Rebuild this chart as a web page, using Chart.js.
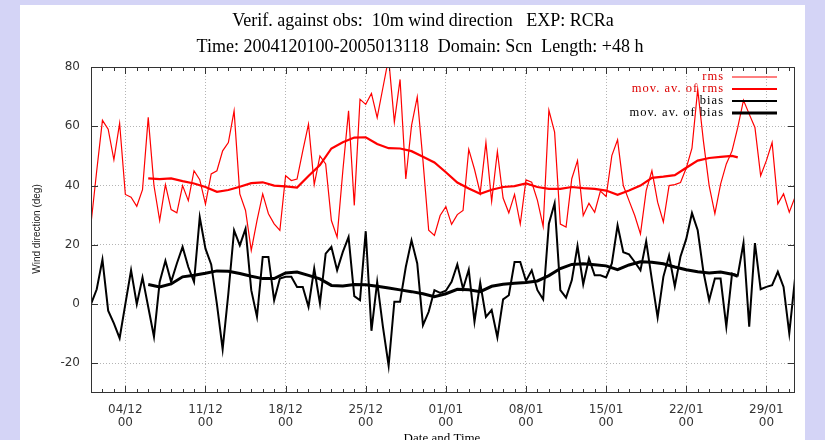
<!DOCTYPE html>
<html>
<head>
<meta charset="utf-8">
<script src="https://cdn.jsdelivr.net/npm/chart.js@4.4.1/dist/chart.umd.min.js"></script>
<style>
  html, body { margin: 0; padding: 0; background: #d4d4f6; }
  #wrap { width: 825px; height: 440px; position: relative; }
</style>
</head>
<body>
<div id="wrap"><canvas id="c"></canvas></div>
<script>
// 10 m wind direction verification, +48 h forecasts, 12-hourly from 2004-12-01 00 UTC.
// x is measured in days after 2004-12-01 00 UTC.

const rmsValues = [
  27.1, 45, 62, 59, 48.7, 61, 37, 36.1, 33, 38.6,
  63, 40, 28.2, 40.3, 31.9, 30.8, 40, 34.9, 45, 42,
  33.7, 43.9, 45, 51.7, 54.5, 65.2, 37.2, 31.6, 18.1, 28.2,
  37.2, 30.5, 27.1, 24.9, 43.3, 41.7, 42.2, 51.7, 60.7, 40.3,
  50, 47.3, 28.2, 22.6, 45, 65.2, 33.3, 69.1, 67.4, 71.1,
  62.9, 73, 83, 61.4, 75.8, 42.2, 60.2, 69.9, 48.4, 24.9,
  23.2, 29.9, 32.9, 26.9, 30.2, 31.6, 52.2, 45.5, 37.5, 54.5,
  34.7, 51.5, 35.8, 30.8, 37, 27, 41.9, 41.1, 35, 26.2,
  65.4, 58, 27, 26, 42.3, 48.4, 29.9, 34, 31, 38.1,
  36.3, 50.1, 55.4, 40, 34.9, 29.9, 23.7, 38.3, 45, 34.4,
  27.7, 40, 40.3, 41, 45.9, 52.6, 72.5, 55, 40, 30.5,
  40.5, 47.3, 51.7, 59.6, 68.8, 64.1, 59.6, 43.3, 48.4, 54.5,
  33.8, 37.2, 31, 36.1
];

const biasValues = [
  0, 5, 15, -2.2, -6.5, -11.5, 0, 11.4, 0, 9,
  -1, -11, 7.5, 14.6, 7.5, 13.7, 19.3, 12.5, 7.5, 29.3,
  18.7, 13.4, 0, -15.2, 3.6, 24.9, 19.8, 25.4, 4.7, -4.3,
  15.9, 15.9, 1.3, 8.6, 9.2, 9.2, 5.8, 5.8, -0.9, 12,
  0.2, 17, 19.3, 11.4, 17.6, 22.6, 2.7, 1.3, 24.6, -9,
  7.5, -7.6, -20.8, 0.8, 0.8, 12.5, 21.5, 13.7, -7.1, -2.6,
  4.7, 3.8, 4.5, 7.5, 13.4, 5.2, 11.6, -5.9, 7.2, -4.3,
  -2.0, -11.2, 1.6, 3.0, 14.2, 14.2, 7.8, 11.4, 4.7, 1.6,
  27.1, 34.0, 4.7, 2.2, 8, 19.6, 6.7, 15.4, 9.7, 9.7,
  9.0, 13.7, 26.6, 17.5, 16.8, 14.2, 11.4, 21.2, 8.2, -4.5,
  9.2, 16.4, 6.0, 16.1, 22, 30.7, 24.9, 10.9, 1.3, 8.6,
  8.6, -7.6, 10.3, 9.7, 20.6, -7.6, 20.6, 5.0, 5.8, 6.4,
  10.9, 5.8, -9.9, 8.6
];

// moving averages, sampled once a day (days 5 .. 56, then 56.5)
const movAvDays = [
  5, 6, 7, 8, 9, 10, 11, 12, 13, 14, 15, 16, 17, 18, 19, 20, 21, 22, 23, 24,
  25, 26, 27, 28, 29, 30, 31, 32, 33, 34, 35, 36, 37, 38, 39, 40, 41, 42, 43, 44,
  45, 46, 47, 48, 49, 50, 51, 52, 53, 54, 55, 56, 56.5
];
const movAvRms = [
  42.4, 42.2, 42.4, 41.5, 40.7, 39.5, 37.9, 38.5, 39.6, 40.8,
  41.1, 40.0, 39.7, 39.3, 43.2, 46.9, 52.5, 54.6, 56.2, 56.3,
  54.0, 52.6, 52.5, 51.6, 49.7, 47.8, 44.5, 41.0, 39.0, 37.2,
  38.6, 39.5, 39.8, 40.7, 39.5, 38.9, 38.9, 39.5, 39.1, 38.9,
  38.3, 36.9, 38.3, 40.0, 42.6, 43.0, 43.5, 46.0, 48.4, 49.3,
  49.7, 50.0, 49.5
];
const movAvBias = [
  6.6, 5.8, 6.8, 9.2, 9.7, 10.4, 11.2, 11.1, 10.3, 9.4,
  8.6, 8.6, 10.5, 10.8, 9.7, 8.5, 6.3, 6.1, 6.6, 6.5,
  6.0, 5.4, 4.8, 4.2, 3.5, 2.5, 3.5, 5.0, 4.8, 4.2,
  6.0, 6.7, 7.0, 7.3, 7.8, 9.6, 12.0, 13.4, 13.6, 13.3,
  12.9, 11.6, 13.2, 14.3, 14.1, 13.6, 12.5, 11.6, 10.9, 10.5,
  10.8, 10.1, 9.4
];

// x tick positions (days) and their labels
const tickDays  = [3, 10, 17, 24, 31, 38, 45, 52, 59];
const tickDates = ['04/12', '11/12', '18/12', '25/12', '01/01', '08/01', '15/01', '22/01', '29/01'];
const tickHour  = '00';
const yTicks    = [-20, 0, 20, 40, 60, 80];

const titleLines = [
  'Verif. against obs:  10m wind direction   EXP: RCRa',
  'Time: 2004120100-2005013118  Domain: Scn  Length: +48 h'
];
const seriesNames = ['rms', 'mov. av. of rms', 'bias', 'mov. av. of bias'];

const STEP_DAYS = 0.5; // 12-hourly verification times
const pairs = (vals) => vals.map((v, i) => ({ x: i * STEP_DAYS, y: v }));
const pairsAt = (days, vals) => vals.map((v, i) => ({ x: days[i], y: v }));

const RED = '#ff0000';
const BLACK = '#000000';

const decor = {
  id: 'decor',
  beforeDraw(chart) {
    const { ctx, width, height } = chart;
    ctx.save();
    ctx.fillStyle = '#d4d4f6';
    ctx.fillRect(0, 0, width, height);
    ctx.fillStyle = '#ffffff';
    ctx.fillRect(20, 5, 785, height - 5);
    ctx.restore();
  },
  afterDraw(chart) {
    const { ctx, chartArea: a, scales } = chart;
    const xs = scales.x, ys = scales.y;
    ctx.save();

    // frame
    ctx.strokeStyle = '#333';
    ctx.lineWidth = 1;
    ctx.strokeRect(a.left + 0.5, a.top + 0.5, a.right - a.left - 1, a.bottom - a.top - 1);

    // inward tick marks: daily minor ticks, weekly major ticks on x; major ticks on y
    ctx.beginPath();
    for (let d = 0; d <= xs.max; d += 1) {
      const px = Math.round(xs.getPixelForValue(d)) + 0.5;
      const len = tickDays.includes(d) ? 7 : 4;
      ctx.moveTo(px, a.bottom); ctx.lineTo(px, a.bottom - len);
      ctx.moveTo(px, a.top); ctx.lineTo(px, a.top + len);
    }
    yTicks.forEach(v => {
      const py = Math.round(ys.getPixelForValue(v)) + 0.5;
      ctx.moveTo(a.left, py); ctx.lineTo(a.left + 7, py);
      ctx.moveTo(a.right, py); ctx.lineTo(a.right - 7, py);
    });
    ctx.stroke();

    // titles
    ctx.fillStyle = '#000';
    ctx.textAlign = 'center';
    ctx.textBaseline = 'alphabetic';
    ctx.font = '18px "Liberation Serif", serif';
    ctx.fillText(titleLines[0], 423, 26);
    ctx.fillText(titleLines[1], 420, 52);

    // axis titles
    ctx.font = '13px "Liberation Serif", serif';
    ctx.fillText('Date and Time', 442, 442);
    ctx.save();
    ctx.translate(37, 229);
    ctx.rotate(-Math.PI / 2);
    ctx.font = '10px "Liberation Sans", sans-serif';
    ctx.fillStyle = '#222';
    ctx.textBaseline = 'middle';
    ctx.fillText('Wind direction (deg)', 0, 0);
    ctx.restore();

    // key
    const rows = [
      { y: 77,  color: '#dd0000', stroke: RED,   w: 1 },
      { y: 89,  color: '#dd0000', stroke: RED,   w: 2.2 },
      { y: 101, color: '#000',    stroke: BLACK, w: 2 },
      { y: 113, color: '#000',    stroke: BLACK, w: 3 }
    ];
    ctx.font = '12.5px "Liberation Serif", serif';
    ctx.textAlign = 'right';
    ctx.textBaseline = 'middle';
    if ('letterSpacing' in ctx) ctx.letterSpacing = '1px';
    rows.forEach((r, i) => {
      ctx.fillStyle = r.color;
      ctx.fillText(seriesNames[i], 724, r.y);
      ctx.beginPath();
      ctx.strokeStyle = r.stroke;
      ctx.lineWidth = r.w;
      ctx.moveTo(732, r.y); ctx.lineTo(777, r.y);
      ctx.stroke();
    });
    ctx.restore();
  }
};

new Chart(document.getElementById('c'), {
  type: 'line',
  data: {
    datasets: [
      { label: seriesNames[3], data: pairsAt(movAvDays, movAvBias), borderColor: BLACK, borderWidth: 3, order: 0 },
      { label: seriesNames[2], data: pairs(biasValues), borderColor: BLACK, borderWidth: 2, order: 1 },
      { label: seriesNames[1], data: pairsAt(movAvDays, movAvRms), borderColor: RED, borderWidth: 2.2, order: 2 },
      { label: seriesNames[0], data: pairs(rmsValues), borderColor: RED, borderWidth: 1.2, order: 3 }
    ]
  },
  options: {
    responsive: true,
    maintainAspectRatio: false,
    animation: false,
    events: [],
    elements: { point: { radius: 0 }, line: { tension: 0, fill: false, borderJoinStyle: 'miter' } },
    layout: { padding: { top: 67, right: 30, left: 0, bottom: 0 } },
    plugins: { legend: { display: false }, title: { display: false }, tooltip: { enabled: false } },
    scales: {
      x: {
        type: 'linear',
        min: 0,
        max: 61.5,
        afterBuildTicks: (s) => { s.ticks = tickDays.map(v => ({ value: v })); },
        afterFit: (s) => { s.height = 47; },
        grid: { color: '#b4b4b4', lineWidth: 1, drawTicks: false },
        border: { display: false, dash: [1, 2] },
        ticks: {
          autoSkip: false,
          maxRotation: 0,
          padding: 10,
          color: '#333',
          font: { family: '"DejaVu Sans", sans-serif', size: 12, lineHeight: 1.1 },
          callback: (v) => {
            const k = tickDays.indexOf(v);
            return k < 0 ? '' : [tickDates[k], tickHour];
          }
        }
      },
      y: {
        type: 'linear',
        min: -30,
        max: 80,
        afterBuildTicks: (s) => { s.ticks = yTicks.map(v => ({ value: v })); },
        afterFit: (s) => { s.width = 91; },
        grid: { color: '#b4b4b4', lineWidth: 1, drawTicks: false },
        border: { display: false, dash: [1, 2] },
        ticks: {
          padding: 11,
          color: '#333',
          font: { family: '"DejaVu Sans", sans-serif', size: 12 }
        }
      }
    }
  },
  plugins: [decor]
});
</script>
</body>
</html>
